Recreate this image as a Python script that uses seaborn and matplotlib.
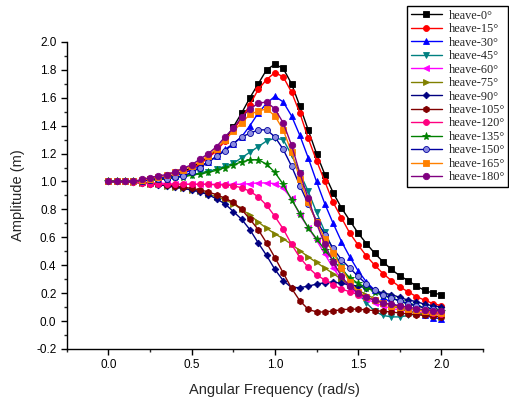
import matplotlib
matplotlib.use("Agg")
import matplotlib.pyplot as plt
import seaborn as sns
import pandas as pd
from matplotlib.ticker import MultipleLocator, FormatStrFormatter

freq = [0.00, 0.05, 0.10, 0.15, 0.20, 0.25, 0.30, 0.35, 0.40, 0.45,
        0.50, 0.55, 0.60, 0.65, 0.70, 0.75, 0.80, 0.85, 0.90, 0.95,
        1.00, 1.05, 1.10, 1.15, 1.20, 1.25, 1.30, 1.35, 1.40, 1.45,
        1.50, 1.55, 1.60, 1.65, 1.70, 1.75, 1.80, 1.85, 1.90, 1.95, 2.00]

heave_0 = [1.0, 1.0, 1.0, 1.0, 1.005, 1.015, 1.025, 1.035, 1.05, 1.07, 1.10, 1.135, 1.18, 1.23, 1.30,
           1.39, 1.49, 1.60, 1.70, 1.80, 1.84, 1.81, 1.70, 1.54, 1.37, 1.20, 1.05, 0.92, 0.81, 0.72,
           0.63, 0.555, 0.485, 0.425, 0.37, 0.325, 0.29, 0.25, 0.22, 0.20, 0.19]
heave_15 = [1.0, 1.0, 1.0, 1.0, 1.005, 1.012, 1.02, 1.03, 1.045, 1.065, 1.09, 1.125, 1.17, 1.22, 1.29,
            1.37, 1.45, 1.55, 1.66, 1.73, 1.78, 1.75, 1.64, 1.49, 1.31, 1.15, 1.00, 0.85, 0.74, 0.63,
            0.545, 0.466, 0.40, 0.34, 0.29, 0.245, 0.21, 0.175, 0.15, 0.125, 0.11]
heave_30 = [1.0, 1.0, 1.0, 1.0, 1.005, 1.01, 1.02, 1.03, 1.04, 1.06, 1.08, 1.11, 1.14, 1.18, 1.23,
            1.27, 1.32, 1.40, 1.49, 1.56, 1.61, 1.57, 1.47, 1.33, 1.17, 1.00, 0.84, 0.70, 0.57, 0.46,
            0.36, 0.28, 0.22, 0.17, 0.13, 0.10, 0.08, 0.06, 0.04, 0.025, 0.015]
heave_45 = [1.0, 1.0, 1.0, 1.0, 1.005, 1.01, 1.015, 1.02, 1.03, 1.04, 1.05, 1.06, 1.07, 1.09, 1.11,
            1.13, 1.17, 1.21, 1.25, 1.29, 1.31, 1.30, 1.19, 1.06, 0.93, 0.78, 0.64, 0.51, 0.39, 0.29,
            0.20, 0.13, 0.07, 0.04, 0.03, 0.03, 0.04, 0.05, 0.05, 0.05, 0.05]
heave_60 = [1.0, 1.0, 1.0, 1.0, 0.995, 0.99, 0.99, 0.985, 0.98, 0.98, 0.98, 0.98, 0.98, 0.98, 0.98,
            0.98, 0.98, 0.985, 0.99, 0.99, 0.985, 0.95, 0.88, 0.76, 0.67, 0.58, 0.48, 0.38, 0.30, 0.24,
            0.19, 0.16, 0.13, 0.11, 0.09, 0.08, 0.07, 0.06, 0.06, 0.05, 0.05]
heave_75 = [1.0, 1.0, 1.0, 0.995, 0.99, 0.985, 0.98, 0.97, 0.96, 0.95, 0.94, 0.93, 0.91, 0.89, 0.87,
            0.84, 0.80, 0.76, 0.71, 0.665, 0.625, 0.59, 0.55, 0.505, 0.46, 0.42, 0.38, 0.34, 0.30, 0.26,
            0.22, 0.19, 0.16, 0.13, 0.11, 0.09, 0.07, 0.06, 0.05, 0.04, 0.03]
heave_90 = [1.0, 1.0, 1.0, 0.995, 0.99, 0.985, 0.975, 0.97, 0.96, 0.95, 0.94, 0.925, 0.905, 0.875, 0.84,
            0.785, 0.73, 0.655, 0.56, 0.47, 0.37, 0.29, 0.24, 0.24, 0.25, 0.265, 0.275, 0.28, 0.27, 0.26,
            0.25, 0.24, 0.22, 0.20, 0.19, 0.17, 0.15, 0.14, 0.12, 0.11, 0.10]
heave_105 = [1.0, 1.0, 1.0, 0.995, 0.99, 0.985, 0.98, 0.975, 0.97, 0.96, 0.95, 0.94, 0.925, 0.905, 0.88,
             0.85, 0.80, 0.73, 0.655, 0.56, 0.455, 0.345, 0.235, 0.145, 0.085, 0.065, 0.065, 0.072, 0.082, 0.085,
             0.085, 0.08, 0.075, 0.07, 0.065, 0.058, 0.052, 0.046, 0.04, 0.035, 0.03]
heave_120 = [1.0, 1.0, 1.0, 0.995, 0.99, 0.985, 0.98, 0.98, 0.98, 0.98, 0.98, 0.98, 0.98, 0.975, 0.975,
             0.97, 0.955, 0.93, 0.89, 0.83, 0.75, 0.66, 0.55, 0.455, 0.385, 0.33, 0.295, 0.26, 0.23, 0.21,
             0.19, 0.17, 0.15, 0.13, 0.115, 0.10, 0.09, 0.08, 0.07, 0.06, 0.05]
heave_135 = [1.0, 1.0, 1.0, 1.0, 1.005, 1.01, 1.015, 1.02, 1.03, 1.035, 1.045, 1.055, 1.065, 1.08, 1.10,
             1.12, 1.14, 1.155, 1.155, 1.125, 1.065, 0.98, 0.87, 0.77, 0.67, 0.59, 0.51, 0.435, 0.37, 0.31,
             0.27, 0.24, 0.21, 0.185, 0.165, 0.145, 0.125, 0.11, 0.095, 0.085, 0.075]
heave_150 = [1.0, 1.0, 1.0, 1.0, 1.005, 1.01, 1.015, 1.02, 1.03, 1.04, 1.065, 1.10, 1.14, 1.18, 1.22,
             1.27, 1.32, 1.345, 1.37, 1.37, 1.32, 1.23, 1.11, 0.97, 0.84, 0.72, 0.62, 0.52, 0.44, 0.38,
             0.32, 0.265, 0.22, 0.19, 0.165, 0.145, 0.125, 0.11, 0.095, 0.085, 0.075]
heave_165 = [1.0, 1.0, 1.0, 1.0, 1.01, 1.02, 1.035, 1.045, 1.065, 1.085, 1.11, 1.145, 1.185, 1.235, 1.30,
             1.36, 1.42, 1.48, 1.505, 1.52, 1.47, 1.37, 1.21, 1.02, 0.85, 0.71, 0.59, 0.49, 0.38, 0.28,
             0.21, 0.17, 0.15, 0.13, 0.11, 0.10, 0.09, 0.08, 0.07, 0.065, 0.06]
heave_180 = [1.0, 1.0, 1.0, 1.0, 1.015, 1.027, 1.04, 1.05, 1.07, 1.095, 1.12, 1.16, 1.20, 1.25, 1.32,
             1.38, 1.46, 1.52, 1.56, 1.57, 1.52, 1.42, 1.26, 1.06, 0.88, 0.70, 0.55, 0.42, 0.32, 0.25,
             0.20, 0.17, 0.15, 0.13, 0.12, 0.11, 0.10, 0.09, 0.08, 0.075, 0.07]

labels = ["heave-0°", "heave-15°", "heave-30°", "heave-45°", "heave-60°", "heave-75°",
          "heave-90°", "heave-105°", "heave-120°", "heave-135°", "heave-150°", "heave-165°",
          "heave-180°"]
series = [heave_0, heave_15, heave_30, heave_45, heave_60, heave_75, heave_90,
          heave_105, heave_120, heave_135, heave_150, heave_165, heave_180]

colors = ["#000000", "#FF0000", "#0000FF", "#008080", "#FF00FF", "#808000", "#000080",
          "#800000", "#FF0080", "#008000", "#0000A0", "#FF8000", "#800080"]
markers = ["s", "o", "^", "v", "<", ">", "D", "h", "o", "*", "o", "s", "o"]
msizes = [4.0, 4.3, 4.3, 4.3, 4.3, 4.3, 3.4, 4.6, 4.3, 5.8, 4.3, 4.0, 4.6]

sns.set_style("ticks")
plt.rcParams["font.family"] = ["Liberation Sans", "DejaVu Sans"]

fig = plt.figure(figsize=(5.10, 4.03), dpi=100)
ax = fig.add_axes([0.131, 0.134, 0.816, 0.762])

for lab, vals, c, m, ms in zip(labels, series, colors, markers, msizes):
    df = pd.DataFrame({"freq": freq, "amp": vals})
    mfc = c
    if lab == "heave-150°":
        mfc = "#8C8CE0"
    sns.lineplot(data=df, x="freq", y="amp", ax=ax, color=c, marker=m,
                 markersize=ms, markerfacecolor=mfc, markeredgecolor=c,
                 markeredgewidth=0.6, linewidth=1.0, label=lab)

ax.set_xlim(-0.25, 2.25)
ax.set_ylim(-0.2, 2.0)
ax.xaxis.set_major_locator(MultipleLocator(0.5))
ax.xaxis.set_minor_locator(MultipleLocator(0.25))
ax.yaxis.set_major_locator(MultipleLocator(0.2))
ax.yaxis.set_minor_locator(MultipleLocator(0.1))
ax.xaxis.set_major_formatter(FormatStrFormatter("%.1f"))
ax.yaxis.set_major_formatter(FormatStrFormatter("%.1f"))
ax.tick_params(which="major", direction="out", length=4, width=1, labelsize=8.5, colors="black")
ax.tick_params(which="minor", direction="out", length=2.5, width=1)
for s in ["top", "right"]:
    ax.spines[s].set_visible(False)
for s in ["left", "bottom"]:
    ax.spines[s].set_linewidth(1.0)
    ax.spines[s].set_color("black")

ax.set_xlabel("Angular Frequency (rad/s)", fontsize=10.5, labelpad=8)
ax.set_ylabel("Amplitude (m)", fontsize=10.5, labelpad=8)

handles, labs = ax.get_legend_handles_labels()
ax.get_legend().remove()
leg = fig.legend(handles, labs, loc="upper right", bbox_to_anchor=(0.997, 0.985),
                 prop={"family": "Liberation Serif", "size": 8.8}, frameon=True,
                 fancybox=False, edgecolor="black", framealpha=1, borderpad=0.3,
                 labelspacing=0.12, handlelength=2.6, handletextpad=0.5,
                 borderaxespad=0.0)
leg.get_frame().set_linewidth(1.0)

fig.savefig("out.png", dpi=100)
